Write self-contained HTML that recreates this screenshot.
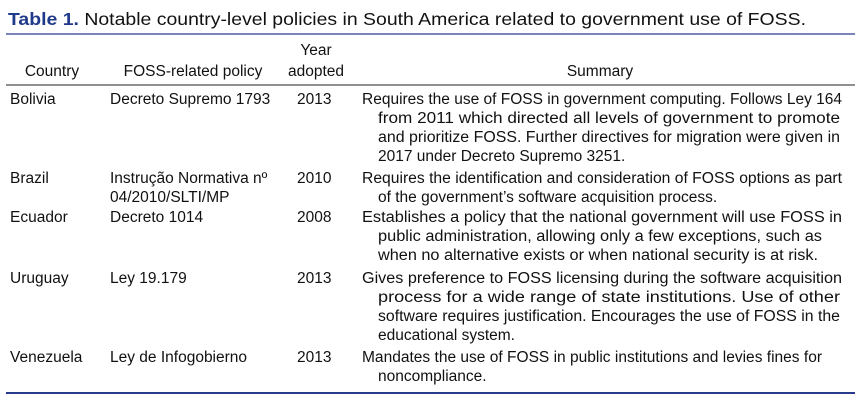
<!DOCTYPE html>
<html><head><meta charset="utf-8"><style>
body{margin:0;background:#fff;}
svg{display:block;font-family:"Liberation Sans",sans-serif;}
text{font-size:15.5px;fill:#111;}
</style></head><body>
<svg width="861" height="401">
<text x="8" y="25" style="font-size:17.5px" textLength="798" lengthAdjust="spacingAndGlyphs"><tspan fill="#1f3a8a" font-weight="bold">Table 1.</tspan> Notable country-level policies in South America related to government use of FOSS.</text>
<line x1="6" y1="34" x2="855" y2="34" stroke="#2a3a8c" stroke-width="1.2"/>
<g>
<text x="52" y="76" text-anchor="middle">Country</text>
<text x="193" y="76" text-anchor="middle">FOSS-related policy</text>
<text x="316" y="55" text-anchor="middle">Year</text>
<text x="316" y="76" text-anchor="middle">adopted</text>
<text x="600" y="76" text-anchor="middle">Summary</text>
</g>
<line x1="6" y1="85" x2="855" y2="85" stroke="#222" stroke-width="1"/>

<g>
<text x="10" y="104">Bolivia</text>
<text x="110" y="104">Decreto Supremo 1793</text>
<text x="297" y="104">2013</text>
<text x="362" y="104" textLength="480" lengthAdjust="spacingAndGlyphs">Requires the use of FOSS in government computing. Follows Ley 164</text>
<text x="378" y="123" textLength="462" lengthAdjust="spacingAndGlyphs">from 2011 which directed all levels of government to promote</text>
<text x="378" y="142" textLength="462" lengthAdjust="spacingAndGlyphs">and prioritize FOSS. Further directives for migration were given in</text>
<text x="378" y="161">2017 under Decreto Supremo 3251.</text>
</g>
<g>
<text x="10" y="183">Brazil</text>
<text x="110" y="183">Instrução Normativa nº</text>
<text x="110" y="202">04/2010/SLTI/MP</text>
<text x="297" y="183">2010</text>
<text x="362" y="183" textLength="480" lengthAdjust="spacingAndGlyphs">Requires the identification and consideration of FOSS options as part</text>
<text x="378" y="202">of the government’s software acquisition process.</text>
</g>
<g>
<text x="10" y="222">Ecuador</text>
<text x="110" y="222">Decreto 1014</text>
<text x="297" y="222">2008</text>
<text x="362" y="222" textLength="480" lengthAdjust="spacingAndGlyphs">Establishes a policy that the national government will use FOSS in</text>
<text x="378" y="241" textLength="444" lengthAdjust="spacingAndGlyphs">public administration, allowing only a few exceptions, such as</text>
<text x="378" y="260" textLength="440" lengthAdjust="spacingAndGlyphs">when no alternative exists or when national security is at risk.</text>
</g>
<g>
<text x="10" y="283">Uruguay</text>
<text x="110" y="283">Ley 19.179</text>
<text x="297" y="283">2013</text>
<text x="362" y="283" textLength="480" lengthAdjust="spacingAndGlyphs">Gives preference to FOSS licensing during the software acquisition</text>
<text x="378" y="302" textLength="462" lengthAdjust="spacingAndGlyphs">process for a wide range of state institutions. Use of other</text>
<text x="378" y="321" textLength="462" lengthAdjust="spacingAndGlyphs">software requires justification. Encourages the use of FOSS in the</text>
<text x="378" y="340">educational system.</text>
</g>
<g>
<text x="10" y="362">Venezuela</text>
<text x="110" y="362">Ley de Infogobierno</text>
<text x="297" y="362">2013</text>
<text x="362" y="362" textLength="460" lengthAdjust="spacingAndGlyphs">Mandates the use of FOSS in public institutions and levies fines for</text>
<text x="378" y="381">noncompliance.</text>
</g>
<line x1="6" y1="393" x2="855" y2="393" stroke="#2a3a8c" stroke-width="2"/>
</svg>
</body></html>
